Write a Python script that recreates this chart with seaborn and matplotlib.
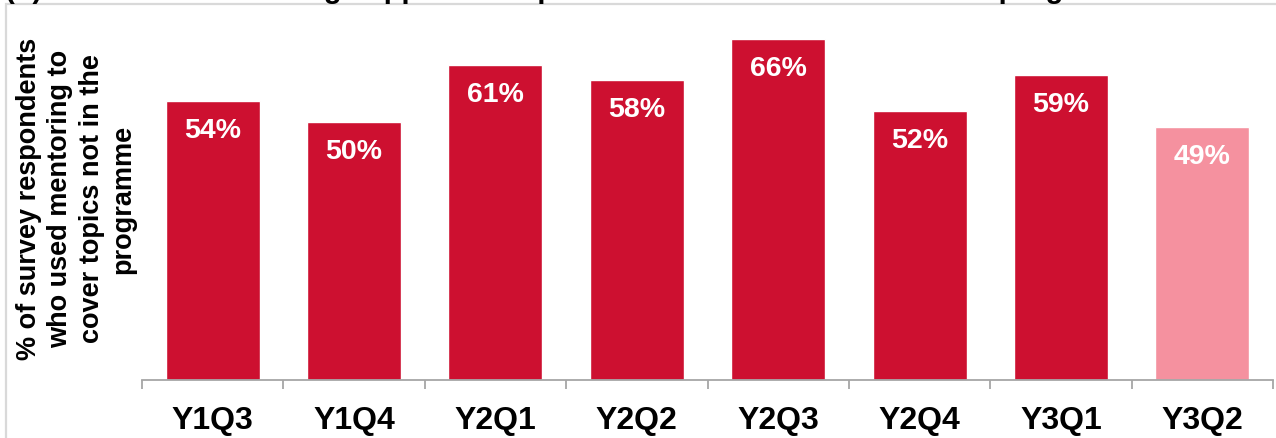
import matplotlib
matplotlib.use("Agg")
import matplotlib.pyplot as plt
from matplotlib.patches import Rectangle
import seaborn as sns

# Share of survey respondents who used mentoring for topics outside the programme
quarters = ["Y1Q3", "Y1Q4", "Y2Q1", "Y2Q2", "Y2Q3", "Y2Q4", "Y3Q1", "Y3Q2"]
values = [54, 50, 61, 58, 66, 52, 59, 49]
value_labels = ["54%", "50%", "61%", "58%", "66%", "52%", "59%", "49%"]
bar_colors = ["#CD1030"] * 7 + ["#F5919F"]

title_text = "(b) Use of the mentoring support on topics that were not covered in the programme"
ylabel_text = "% of survey respondents\nwho used mentoring to\ncover topics not in the\nprogramme"

sns.set_theme(style="white")
plt.rcParams["font.family"] = ["Liberation Sans", "DejaVu Sans"]

W, H = 1276, 439
fig = plt.figure(figsize=(W / 100, H / 100), dpi=100)

# axes placement in pixels: left 142, right 1273, baseline 381
left_px, right_px, base_px = 142, 1273, 381
ymax = 70
px_per_unit = 5.17
ax = fig.add_axes([left_px / W, (H - base_px) / H,
                   (right_px - left_px) / W, ymax * px_per_unit / H])

sns.barplot(x=quarters, y=values, hue=quarters, palette=bar_colors,
            legend=False, width=0.665, saturation=1, ax=ax)

ax.set_xlim(-0.5, len(quarters) - 0.5)
ax.set_ylim(0, ymax)

for i, (v, lab) in enumerate(zip(values, value_labels)):
    ax.annotate(lab, xy=(i, v), xytext=(0, -26), textcoords="offset points",
                ha="center", va="baseline", color="white",
                fontsize=20.5, fontweight="bold")

for s in ["left", "right", "top"]:
    ax.spines[s].set_visible(False)
ax.spines["bottom"].set_color("#A6A6A6")
ax.spines["bottom"].set_linewidth(1.3)

ax.set_yticks([])
ax.set_xticks(range(len(quarters)))
ax.set_xticklabels(quarters, fontsize=23, fontweight="bold", color="black")
ax.tick_params(axis="x", which="major", length=0, pad=18)
ax.set_xticks([i - 0.5 for i in range(len(quarters) + 1)], minor=True)
ax.tick_params(axis="x", which="minor", length=6.5, width=1.3,
               color="#A6A6A6", direction="out", bottom=True)
ax.set_xlabel("")
ax.set_ylabel("")

fig.text(76 / W, 1 - 199 / H, ylabel_text, rotation=90, ha="center",
         va="center", multialignment="center", fontsize=19.5,
         fontweight="bold", color="black", linespacing=1.28)

# outer frame of the panel
fig.add_artist(Rectangle((6 / W, -0.1), 1.2, 1 - 5 / H + 0.1,
                         transform=fig.transFigure, fill=False,
                         edgecolor="#D9D9D9", linewidth=1.6))

# panel heading sits above the visible area
fig.text(5 / W, 1 + 1.5 / H, title_text, ha="left", va="baseline",
         fontsize=21, fontweight="bold", color="black")

fig.savefig("out.png", dpi=100)
